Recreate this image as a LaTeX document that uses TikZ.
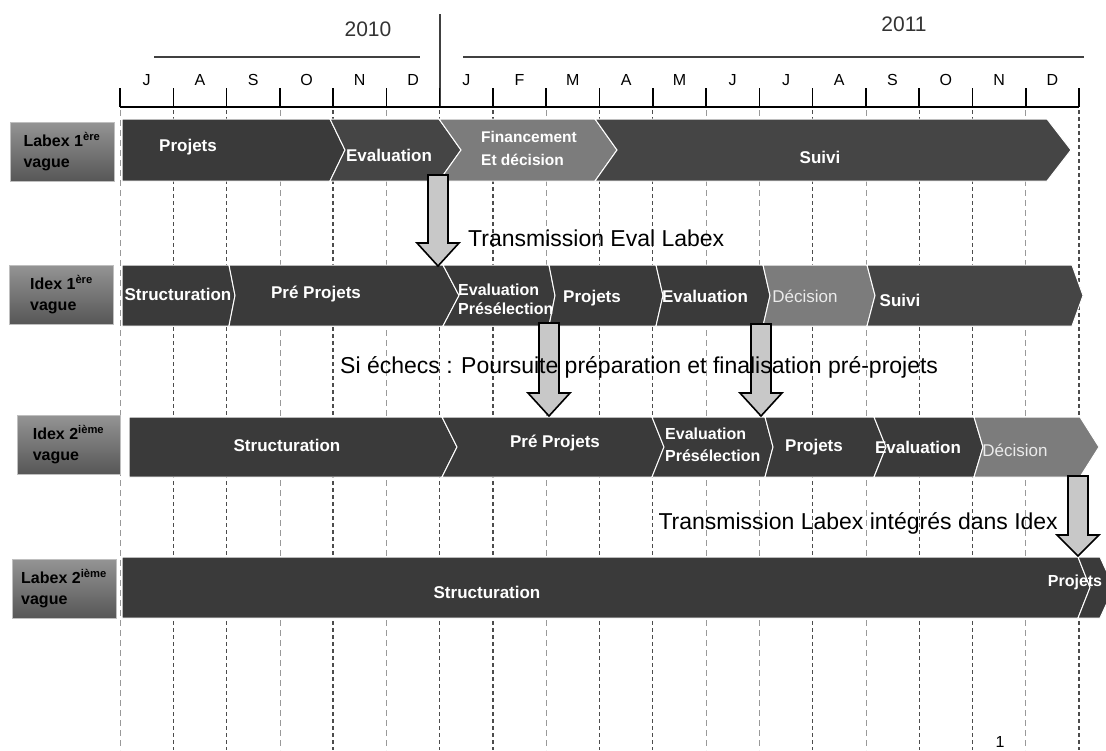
\documentclass[tikz,border=0pt]{standalone}
\usepackage{fontspec}
\setmainfont{Liberation Sans}
\usetikzlibrary{arrows}

\definecolor{barA}{HTML}{3A3A3A}
\definecolor{barB}{HTML}{454545}
\definecolor{barC}{HTML}{7C7C7C}
\definecolor{arrfill}{HTML}{C8C8C8}

% chevron: [colour] x-left, notch, x-right, point, y-top, y-bottom
\newcommand{\chev}[7][barA]{%
  \fill[#1,draw=white,line width=1pt] (#2,#6) -- (#4,#6) -- ({#4+#5},{(#6+#7)/2})
    -- (#4,#7) -- (#2,#7) -- ({#2+#3},{(#6+#7)/2}) -- cycle;}
% block arrow: x, top, neck, tip
\newcommand{\blockarr}[4]{%
  \draw[barrow] ({#1-10},#2) -- ({#1+10},#2) -- ({#1+10},#3) -- ({#1+21},#3)
    -- (#1,#4) -- ({#1-21},#3) -- ({#1-10},#3) -- cycle;}

\begin{document}
\begin{tikzpicture}[x=1pt,y=-1pt,
    month/.style={font=\fontsize{16}{18}\selectfont},
    year/.style={font=\fontsize{21}{24}\selectfont,text=black!80},
    lbl/.style={draw=black!25,line width=1pt,top color=black!42,bottom color=black!66,
      minimum width=104pt,minimum height=59pt,align=left,inner sep=0pt,
      font=\fontsize{16}{21}\selectfont\bfseries},
    seg/.style={text=white,font=\fontsize{17}{20}\selectfont\bfseries,inner sep=0pt,align=left},
    segl/.style={text=black!8,font=\fontsize{17}{20}\selectfont,inner sep=0pt},
    note/.style={font=\fontsize{23}{26}\selectfont,inner sep=0pt},
    darkdash/.style={black!70,line width=1.3pt,dash pattern=on 4pt off 3pt},
    lightdash/.style={black!40,line width=0.6pt,dash pattern=on 6pt off 4pt},
    tick/.style={line width=1.5pt},
    barrow/.style={fill=arrfill,draw=black,line width=1.6pt,line join=miter}]
  \useasboundingbox (0,0) rectangle (1106,750);
  \clip (0,0) rectangle (1106,750);
  \fill[white] (0,0) rectangle (1106,750);

  % time axis
  \node[year] (y2010) at (368,29) {2010};
  \node[year] (y2011) at (904,24) {2011};
  \draw[tick,black!75] (154,57) -- (420,57);
  \draw[tick,black!75] (463,57) -- (1084,57);
  \draw[tick,black!75] (440,14) -- (440,107);
  \draw[tick] (120,107) -- (1079,107);
  \foreach \i in {0,...,18}
    \draw[tick] ({120+53.28*\i},88) -- ({120+53.28*\i},107);
  \foreach \m [count=\i from 0] in {J,A,S,O,N,D,J,F,M,A,M,J,J,A,S,O,N,D}
    \node[month] (m\i) at ({120+53.28*(\i+0.5)},80) {\m};

  % month guides
  \foreach \i in {1,2,4,6,7,9,10,13,15,16,18}
    \draw[darkdash] ({120+53.28*\i},110) -- ({120+53.28*\i},750);
  \foreach \i in {0,3,5,8,11,12,14,17}
    \draw[lightdash] ({120+53.28*\i},110) -- ({120+53.28*\i},750);

  % Labex 1ere vague
  \node[lbl] (lab1) at (62,151.5) {Labex 1\textsuperscript{ère}\\vague};
  \chev{122}{0}{330}{15}{119}{181}
  \chev[barB]{330}{15}{439}{22}{119}{181}
  \chev[barC]{439}{22}{595}{22}{119}{181}
  \chev[barB]{595}{22}{1047}{24}{119}{181}
  \node[seg] (r1p) at (188,147) {Projets};
  \node[seg] (r1e) at (389,155) {Evaluation};
  \node[seg,anchor=west,font=\fontsize{15.5}{23}\selectfont\bfseries] (r1f) at (481,148) {Financement\\Et décision};
  \node[seg] (r1s) at (820,157) {Suivi};

  % Idex 1ere vague
  \node[lbl] (idx1) at (61.5,294.5) {Idex 1\textsuperscript{ère}\\vague};
  \chev{122}{0}{229}{6}{265}{326}
  \chev{229}{6}{443}{16}{265}{326}
  \chev{443}{16}{549}{6}{265}{326}
  \chev{549}{6}{656}{7}{265}{326}
  \chev{656}{7}{763}{7}{265}{326}
  \chev[barC]{763}{7}{867}{8}{265}{326}
  \chev[barB]{867}{8}{1072}{11}{265}{326}
  \node[seg] (r2s) at (178,294) {Structuration};
  \node[seg] (r2pp) at (316,294) {Pré Projets};
  \node[seg,anchor=west,font=\fontsize{16}{19}\selectfont\bfseries] (r2ev) at (458,299) {Evaluation\\Présélection};
  \node[seg] (r2p) at (592,298) {Projets};
  \node[seg] (r2e) at (705,296) {Evaluation};
  \node[segl] (r2d) at (805,296) {Décision};
  \node[seg] (r2v) at (900,300) {Suivi};

  % Idex 2ieme vague
  \node[lbl,minimum width=103pt] (idx2) at (68.5,444.5) {Idex 2\textsuperscript{ième}\\vague};
  \chev{129}{0}{442}{15}{417}{477}
  \chev{442}{15}{652}{12}{417}{477}
  \chev{652}{12}{765}{8}{417}{477}
  \chev{765}{8}{874}{12}{417}{477}
  \chev{874}{12}{974}{9}{417}{477}
  \chev[barC]{974}{9}{1080}{19}{417}{477}
  \node[seg] (r3s) at (287,445) {Structuration};
  \node[seg] (r3pp) at (555,443) {Pré Projets};
  \node[seg,anchor=west,font=\fontsize{16}{22}\selectfont\bfseries] (r3ev) at (665,445) {Evaluation\\Présélection};
  \node[seg] (r3p) at (814,447) {Projets};
  \node[seg] (r3e) at (918,447) {Evaluation};
  \node[segl] (r3d) at (1015,450) {Décision};

  % Labex 2ieme vague
  \node[lbl] (lab2) at (64,588.5) {Labex 2\textsuperscript{ième}\\vague};
  \chev{122}{0}{1078}{12}{557}{618}
  \chev{1078}{12}{1100}{14}{557}{618}
  \node[seg] (r4s) at (487,592) {Structuration};
  \node[seg,font=\fontsize{16}{20}\selectfont\bfseries] (r4p) at (1075,582) {Projets};

  % transmissions
  \blockarr{438}{175}{243}{266}
  \blockarr{549}{323}{393}{416}
  \blockarr{761}{324}{393}{416}
  \blockarr{1078}{476}{535}{556}
  \node[note,anchor=west] (t1) at (468,238) {Transmission Eval Labex};
  \node[note,anchor=west] (t2) at (340,367) {Si échecs : Poursuite préparation et finalisation pré-projets};
  \node[note,anchor=east] (t3) at (1058,523) {Transmission Labex intégrés dans Idex};

  \node[font=\fontsize{16}{18}\selectfont] (pg) at (1000,742) {1};
\end{tikzpicture}
\end{document}
